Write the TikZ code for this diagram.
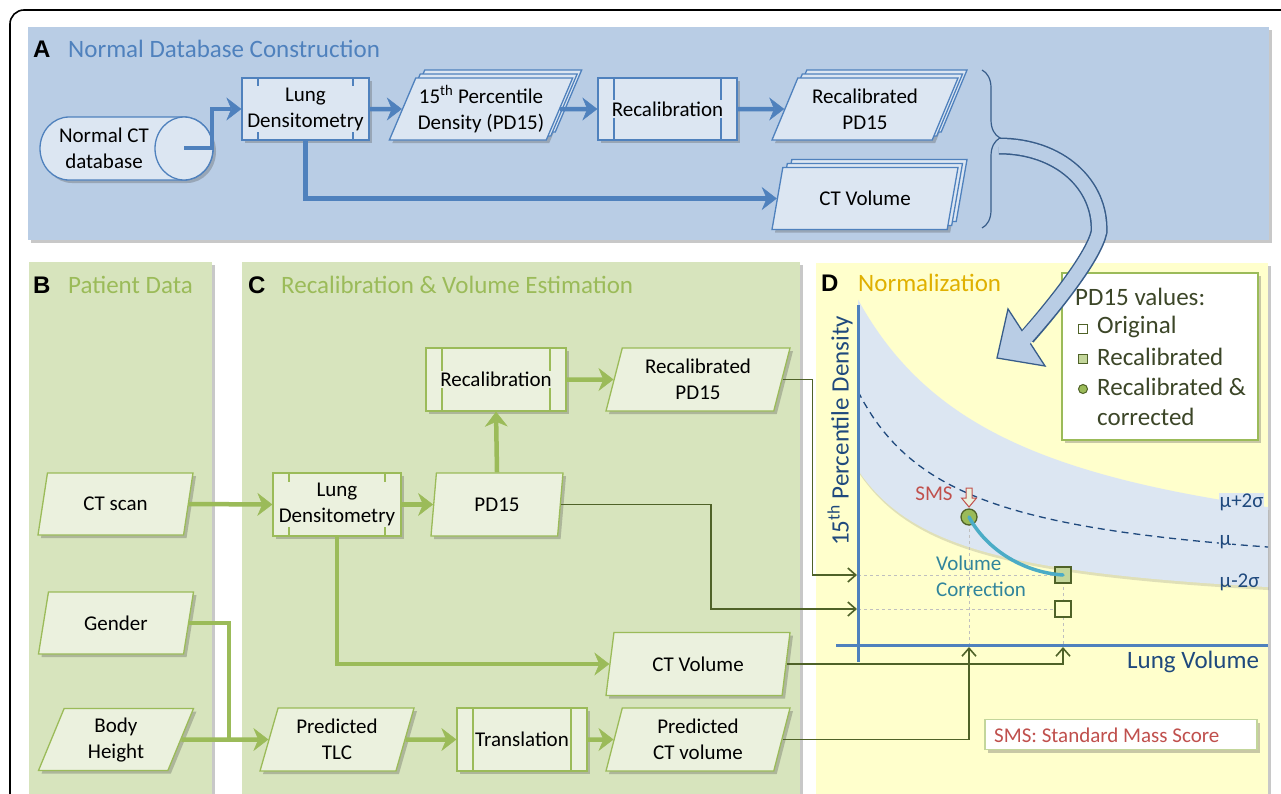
\documentclass[tikz,border=0pt]{standalone}
\usepackage{fontspec}
\setmainfont{Carlito}
\newfontfamily\letterfont{Liberation Sans}
\usetikzlibrary{shapes.geometric,arrows.meta,shadows,decorations.pathreplacing,calc}
\newcommand\fsz[2]{\fontsize{#1}{#2}\selectfont}
\definecolor{panA}{HTML}{B9CDE5}
\definecolor{boxA}{HTML}{DCE6F2}
\definecolor{lineA}{HTML}{4F81BD}
\definecolor{panG}{HTML}{D7E4BD}
\definecolor{boxG}{HTML}{EBF1DE}
\definecolor{lineG}{HTML}{9BBB59}
\definecolor{darkG}{HTML}{4F6228}
\definecolor{panD}{HTML}{FFFFCC}
\definecolor{titleD}{HTML}{E0B000}
\definecolor{navy}{HTML}{1F497D}
\definecolor{smsred}{HTML}{C0504D}
\definecolor{tealc}{HTML}{4BACC6}
\definecolor{tealtext}{HTML}{31859C}
\definecolor{edgeA}{HTML}{385D8A}
\definecolor{legtext}{HTML}{3C4628}
\definecolor{sqfill}{HTML}{C3D69B}
\begin{document}
\begin{tikzpicture}[x=1pt,y=-1pt,
  sh/.style={drop shadow={shadow xshift=3pt,shadow yshift=-3pt,opacity=0.3,fill=black!70}},
  procbase/.style={rectangle, line width=1.3pt, inner sep=0pt,
    path picture={\draw[#1, line width=1.2pt]
      ([xshift=16pt]path picture bounding box.north west) -- ([xshift=16pt]path picture bounding box.south west)
      ([xshift=-16pt]path picture bounding box.north east) -- ([xshift=-16pt]path picture bounding box.south east);}},
  procA/.style={sh, procbase=lineA, draw=lineA, fill=boxA},
  procG/.style={sh, procbase=lineG, draw=lineG, fill=boxG},
  ptext/.style={font=\fsz{21}{26}, align=center, inner sep=1.5pt, text=black},
  io/.style 2 args={trapezium, trapezium left angle=#1, trapezium right angle=#2,
    trapezium stretches body, align=center, font=\fsz{21}{26}, line width=1.3pt, inner sep=2pt, text=black},
  ioAstack/.style 2 args={sh,
    copy shadow={shadow xshift=9pt, shadow yshift=8pt, fill=boxA, draw=lineA, line width=1.3pt},
    copy shadow={shadow xshift=4.5pt, shadow yshift=4pt, fill=boxA, draw=lineA, line width=1.3pt},
    io={#1}{#2}, draw=lineA, fill=boxA},
  ioG/.style 2 args={sh, io={#1}{#2}, draw=lineG, fill=boxG},
  barrow/.style={draw=lineA, line width=4.5pt, -{Stealth[length=15pt,width=23pt,line width=0.5pt]}},
  garrow/.style={draw=lineG, line width=4.5pt, -{Stealth[length=15pt,width=23pt,line width=0.5pt]}},
  gline/.style={draw=lineG, line width=4.5pt},
  tharrow/.style={draw=darkG, line width=1.6pt, -{Straight Barb[length=8pt,width=14pt]}},
  lettr/.style={font=\letterfont\bfseries\fsz{24}{28}, anchor=west, inner sep=0pt},
  ttl/.style={font=\fsz{25}{30}, anchor=west, inner sep=0pt},
  guide/.style={draw=black!25, dashed, line width=0.9pt},
  legtxt/.style={font=\fsz{25}{30}, anchor=west, inner sep=0pt, text=legtext},
]
\useasboundingbox (0,0) rectangle (1281,793);
\clip (0,0) rectangle (1281,793);
\fill[white] (0,0) rectangle (1281,793);
\draw[black, line width=1.6pt, rounded corners=14pt] (10,810) -- (10,10) -- (1300,10);

% ---------- panels
\fill[panA, sh] (28,27) rectangle (1269,240);
\fill[panG, sh] (29,262) rectangle (212,810);
\fill[panG, sh] (242,262) rectangle (800,810);
\fill[panD, sh] (816,263) rectangle (1268,810);

\node[lettr] (lA) at (33,49) {A};
\node[ttl, text=lineA] (tA) at (68,49) {Normal Database Construction};
\node[lettr] (lB) at (33,285) {B};
\node[ttl, text=lineG] (tB) at (68,285) {Patient Data};
\node[lettr] (lC) at (248,285) {C};
\node[ttl, text=lineG] (tC) at (281,285) {Recalibration \& Volume Estimation};
\node[lettr] (lD) at (821,283) {D};
\node[ttl, text=titleD] (tD) at (858,283) {Normalization};

% ---------- graph D
\fill[boxA, drop shadow={shadow xshift=1pt,shadow yshift=-3pt,opacity=0.2,fill=black!60}]
  plot[domain=858:1268,samples=80] (\x,{587.1-454.32/((\x-700)/100)})
  -- plot[domain=1268:858,samples=80] (\x,{615-141.93/((\x-760)/100)}) -- cycle;
\draw[navy, dash pattern=on 7pt off 5pt, line width=1.3pt]
  plot[domain=858:1268,samples=80] (\x,{584.2-188.88/((\x-760)/100)});
\node[navy, font=\fsz{21}{25}, anchor=west, inner sep=0.5pt, fill=boxA] (m1) at (1219,502) {μ+2σ};
\node[navy, font=\fsz{21}{25}, anchor=west, inner sep=0.5pt, fill=boxA] (m2) at (1219,542) {μ};
\node[navy, font=\fsz{21}{25}, anchor=west, inner sep=0.5pt] (m3) at (1219,582) {μ-2σ};

\coordinate (yR) at (857,575);
\coordinate (yO) at (857,609);
\coordinate (xR) at (1063,647);
\coordinate (xP) at (969,647);
\draw[guide] (858,575) -- (1063,575);
\draw[guide] (858,609) -- (1063,609);
\draw[guide] (969,517) -- (969,645);
\draw[guide] (1063,575) -- (1063,645);
\draw[lineA, line width=3pt] (858,305) -- (858,662);
\draw[lineA, line width=3pt] (836,645) -- (1268,645);
\node[navy, rotate=90, font=\fsz{25}{30}] (ylab) at (840,431) {15\textsuperscript{th} Percentile Density};
\node[navy, font=\fsz{25}{30}, anchor=west, inner sep=0pt] (xlab) at (1127,662) {Lung Volume};

\node[draw=darkG, fill=sqfill, minimum size=16pt, inner sep=0pt, line width=1.3pt] (sqR) at (1063,575) {};
\node[draw=darkG, fill=panD, minimum size=16pt, inner sep=0pt, line width=1.3pt] (sqO) at (1063,609) {};
\node[circle, draw=darkG, fill=lineG, minimum size=16pt, inner sep=0pt, line width=1.3pt] (ptC) at (969,517) {};
\draw[tealc, line width=3.5pt, line cap=round] (ptC.center) .. controls (985,547) and (1020,572) .. (sqR.center);
\filldraw[fill=boxG, draw=smsred, line width=1pt] (966,488) -- (972,488) -- (972,498) -- (976.5,498) -- (969,507) -- (961.5,498) -- (966,498) -- cycle;
\node[smsred, font=\fsz{21}{25}] (sms) at (934,494) {SMS};
\node[text=tealtext, font=\fsz{21}{26}, align=left, anchor=west, inner sep=0pt] (vc) at (936,576) {Volume\\Correction};

% legend
\node[draw=lineG, fill=white, sh, line width=1.5pt, minimum width=196pt, minimum height=167pt, inner sep=0pt] (legend) at (1160,356.5) {};
\node[legtxt] (lg0) at (1075,297) {PD15 values:};
\node[draw=darkG, fill=white, line width=1pt, minimum size=9pt, inner sep=0pt] (lgm1) at (1083,329) {};
\node[legtxt] (lg1) at (1097,327) {Original};
\node[draw=darkG, fill=sqfill, line width=1pt, minimum size=9pt, inner sep=0pt] (lgm2) at (1083,359) {};
\node[legtxt] (lg2) at (1097,357) {Recalibrated};
\node[circle, draw=darkG, fill=lineG, line width=1pt, minimum size=9pt, inner sep=0pt] (lgm3) at (1083,389) {};
\node[legtxt] (lg3) at (1097,387) {Recalibrated \&};
\node[legtxt] (lg4) at (1097,417) {corrected};

% SMS box
\node[draw=sqfill, fill=white, sh, line width=1.3pt, minimum width=272pt, minimum height=30pt, inner sep=0pt] (smsbox) at (1121,734.5) {};
\node[smsred, font=\fsz{21}{25}, anchor=west, inner sep=0pt] (smst) at (994,735) {SMS: Standard Mass Score};

% ---------- panel A shapes
\fill[boxA, draw=lineA, line width=1.3pt, sh] (184,117) -- (69,117)
  arc[start angle=90, end angle=270, x radius=29pt, y radius=31.5pt] -- (184,180)
  arc[start angle=270, end angle=450, x radius=29pt, y radius=31.5pt] -- cycle;
\filldraw[fill=boxA, draw=lineA, line width=1.3pt] (184,148.5) ellipse [x radius=29pt, y radius=31.5pt];
\node[font=\fsz{21}{26}, align=center, text=black] (cyl) at (104,148) {Normal CT\\database};
\coordinate (cylout) at (184,148);

\node[procA, minimum width=127pt, minimum height=62pt] (ldA) at (305.5,109) {};
\node[ptext, fill=boxA] (ldAt) at (ldA) {Lung\\Densitometry};
\node[ioAstack={62.7}{117.3}, minimum width=172pt, minimum height=62pt] (pdA) at (481,109) {15\textsuperscript{th} Percentile\\Density (PD15)};
\node[procA, minimum width=139pt, minimum height=62pt] (recA) at (667.5,109) {};
\node[ptext, fill=boxA] (recAt) at (recA) {Recalibration};
\node[ioAstack={60}{120}, minimum width=186pt, minimum height=62pt] (rpdA) at (865,109) {Recalibrated\\PD15};
\node[ioAstack={60}{120}, minimum width=186pt, minimum height=62pt] (ctvA) at (865,198.5) {CT Volume};

\draw[barrow] (cylout) -- ++(28,0) |- (ldA.west);
\draw[barrow] (ldA.east) -- (pdA.west);
\draw[barrow] (pdA.east) -- (recA.west);
\draw[barrow] (recA.east) -- (rpdA.west);
\draw[barrow] (ldA.south) |- (ctvA.west);

% ---------- panel B and C shapes
\node[ioG={62}{118}, minimum width=155pt, minimum height=62pt] (ct) at (115.5,504) {CT scan};
\node[ioG={62}{118}, minimum width=155pt, minimum height=62pt] (gen) at (116,623) {Gender};
\node[ioG={62}{118}, minimum width=155pt, minimum height=62pt] (bh) at (116,739.5) {Body\\Height};

\node[procG, minimum width=128pt, minimum height=63pt] (ldC) at (337,504.5) {};
\node[ptext, fill=boxG] (ldCt) at (ldC) {Lung\\Densitometry};
\node[ioG={73}{107}, minimum width=132pt, minimum height=63pt] (pdC) at (497,504.5) {PD15};
\node[procG, minimum width=140pt, minimum height=63pt] (recC) at (496,379.5) {};
\node[ptext, fill=boxG] (recCt) at (recC) {Recalibration};
\node[ioG={70}{110}, minimum width=184pt, minimum height=63pt] (rpdC) at (698,379.5) {Recalibrated\\PD15};
\node[ioG={67}{113}, minimum width=184pt, minimum height=63pt] (ctvC) at (698,664) {CT Volume};
\node[ioG={70}{110}, minimum width=184pt, minimum height=63pt] (pctvC) at (698,739.5) {Predicted\\CT volume};
\node[ioG={68}{112}, minimum width=154pt, minimum height=63pt] (tlc) at (337,739.5) {Predicted\\TLC};
\node[procG, minimum width=130pt, minimum height=63pt] (trC) at (522,739.5) {};
\node[ptext, fill=boxG] (trCt) at (trC) {Translation};

\coordinate (gj) at (229,739.5);
\draw[garrow] (ct.east) -- (ldC.west);
\draw[gline] (gen.east) -| (gj);
\draw[garrow] (bh.east) -- (tlc.west);
\draw[garrow] (ldC.east) -- (pdC.west);
\draw[garrow] (pdC.north) -- (recC.south);
\draw[garrow] (recC.east) -- (rpdC.west);
\draw[garrow] (ldC.south) |- (ctvC.west);
\draw[garrow] (tlc.east) -- (trC.west);
\draw[garrow] (trC.east) -- (pctvC.west);

\draw[tharrow] (rpdC.east) -- ++(30,0) |- (yR);
\draw[tharrow] (pdC.east) -- ++(150,0) |- (yO);
\draw[tharrow] (ctvC.east) -| (xR);
\draw[tharrow] (pctvC.east) -| (xP);

% ---------- brace and big curved arrow
\draw[edgeA, line width=1.2pt, decorate, decoration={brace, amplitude=18pt, aspect=0.43}] (982,70) -- (982,228);
\draw[edgeA, line width=17pt] (999,146) .. controls (1060,146) and (1101,185) .. (1099,232) .. controls (1094,256) and (1055,305) .. (1027,337);
\filldraw[fill=panA, draw=edgeA, line width=1.3pt, line join=miter] (1008,309) -- (997,358) -- (1045,366) -- cycle;
\draw[panA, line width=14pt] (999,146) .. controls (1060,146) and (1101,185) .. (1099,232) .. controls (1094,256) and (1053,308) .. (1022,342);
\end{tikzpicture}
\end{document}
